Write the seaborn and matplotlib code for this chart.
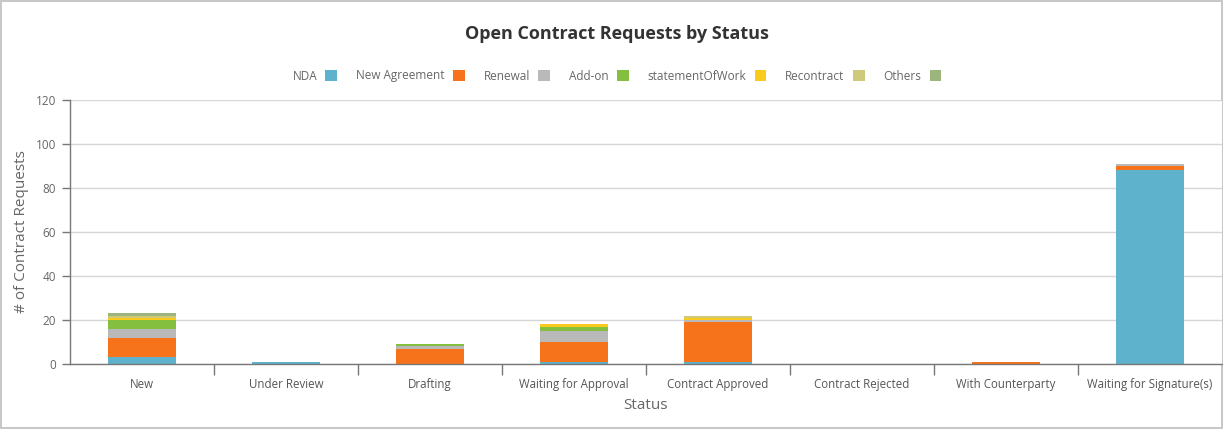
import matplotlib
matplotlib.use("Agg")
import matplotlib.pyplot as plt
import seaborn as sns
import pandas as pd
import numpy as np
from matplotlib.patches import Patch

categories = ["New", "Under Review", "Drafting", "Waiting for Approval", "Contract Approved",
              "Contract Rejected", "With Counterparty", "Waiting for Signature(s)"]
series_names = ["NDA", "New Agreement", "Renewal", "Add-on", "statementOfWork", "Recontract", "Others"]
nda = [3, 1, 0, 1, 1, 0, 0, 88]
new_agreement = [9, 0, 7, 9, 18, 0, 1, 2]
renewal = [4, 0, 1, 5, 1, 0, 0, 1]
add_on = [4, 0, 1, 2, 0, 0, 0, 0]
statement_of_work = [1, 0, 0, 1, 1, 0, 0, 0]
recontract = [1, 0, 0, 0, 1, 0, 0, 0]
others = [1, 0, 0, 0, 0, 0, 0, 0]
y_ticks = [0, 20, 40, 60, 80, 100, 120]

colors = ["#5eb2cc", "#f7731b", "#b9b9b9", "#85bf40", "#f8cb1e", "#cfc97b", "#9bb57d"]
series = [nda, new_agreement, renewal, add_on, statement_of_work, recontract, others]

sns.set_theme(style="white")
plt.rcParams['font.family'] = ['Open Sans', 'DejaVu Sans']

fig = plt.figure(figsize=(12.23, 4.29), dpi=100)
fig.patch.set_edgecolor("#c8c8c8")
fig.patch.set_linewidth(1.5)
ax = fig.add_axes([70 / 1223, 1 - 364 / 429, 1152 / 1223, 264 / 429])

cum = np.cumsum(np.array(series), axis=0)
for i in range(len(series) - 1, -1, -1):
    df = pd.DataFrame({"Status": categories, "value": cum[i]})
    sns.barplot(data=df, x="Status", y="value", color=colors[i], width=0.47,
                saturation=1, ax=ax, order=categories, linewidth=0)

ax.set_xlim(-0.5, len(categories) - 0.5)
ax.set_ylim(0, 120)
ax.set_yticks(y_ticks)
ax.yaxis.grid(True, color="#d6d6d6", linewidth=1)
ax.set_axisbelow(True)
ax.set_xticks(np.arange(len(categories)))
ax.set_xticklabels(categories)
ax.set_xticks(np.arange(0.5, len(categories) - 0.5, 1), minor=True)
ax.tick_params(axis="x", which="major", length=0, pad=10, labelsize=8.3, labelcolor="#555555")
ax.tick_params(axis="x", which="minor", length=8, width=1, color="#777777", bottom=True)
ax.tick_params(axis="y", length=6, width=1, color="#777777", labelsize=8.5, labelcolor="#666666", left=True, pad=4)

for s in ["top", "right"]:
    ax.spines[s].set_visible(False)
for s in ["left", "bottom"]:
    ax.spines[s].set_color("#777777")
    ax.spines[s].set_linewidth(1)

ax.set_xlabel("Status", fontsize=11, color="#666666", labelpad=5)
ax.set_ylabel("# of Contract Requests", fontsize=11, color="#666666", labelpad=5)

fig.text(0.5045, 1 - 34 / 429, "Open Contract Requests by Status", ha="center", va="center",
         fontsize=13, fontweight="bold", color="#333333")

handles = [Patch(facecolor=c, edgecolor="none") for c in colors]
leg = fig.legend(handles, series_names, loc="center", bbox_to_anchor=(0.5045, 1 - 76 / 429),
                 ncol=7, frameon=False, markerfirst=False, fontsize=8.5,
                 handlelength=1.0, handleheight=1.0, handletextpad=0.7, columnspacing=1.6)
for t in leg.get_texts():
    t.set_color("#666666")

fig.savefig("out.png", dpi=100)
